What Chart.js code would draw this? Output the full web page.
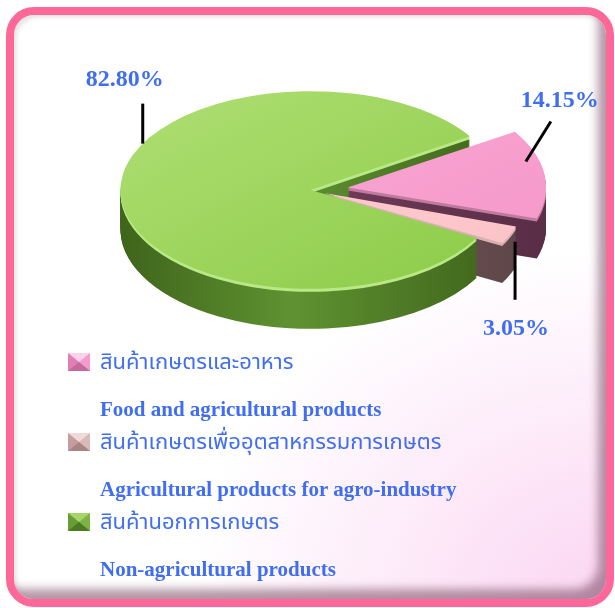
<!DOCTYPE html>
<html>
<head>
<meta charset="utf-8">
<script src="https://cdn.jsdelivr.net/npm/chart.js@4.4.1/dist/chart.umd.min.js"></script>
<style>
  body { margin: 0; width: 615px; height: 608px; overflow: hidden; position: relative; background: #fff; }
  #frame {
    position: absolute; left: 6px; top: 7px; width: 608px; height: 600px;
    box-sizing: border-box; border: 8px solid #fd6898; border-radius: 28px;
    background: radial-gradient(ellipse 70% 60% at 100% 100%, #fbd6f3 0%, #fff 100%);
    box-shadow: inset -12px -14px 10px -4px rgba(130, 80, 105, 0.6), inset 4px 4px 5px -2px rgba(0, 0, 0, 0.12);
  }
  #chart { position: absolute; left: 0; top: 0; }
  #legend { position: absolute; left: 68px; top: 345px; color: #3f6ef2; }
  .item { height: 80px; }
  .thai { display: flex; align-items: center; height: 34px; font: 22px "Noto Sans Thai", "Noto Serif Thai", "Loma", "Garuda", sans-serif; }
  .eng { margin: 18px 0 0 32px; font: bold 21px "Liberation Serif", "Times New Roman", serif; line-height: 24px; }
  .box { width: 0; height: 0; margin-right: 10px; border-style: solid; border-width: 9px 11px; }
</style>
</head>
<body>
<div id="frame"></div>
<canvas id="chart" width="615" height="608"></canvas>
<div id="legend"></div>
<script>
const categories = ["สินค้าเกษตรและอาหาร", "สินค้าเกษตรเพื่ออุตสาหกรรมการเกษตร", "สินค้านอกการเกษตร"];
const categoriesEn = ["Food and agricultural products", "Agricultural products for agro-industry", "Non-agricultural products"];
const shares = [14.15, 3.05, 82.80];
const shareLabels = ["14.15%", "3.05%", "82.80%"];

// look of the 3d pie
const topColors = [["#fbaad6", "#f597c8"], ["#fed0d3", "#fbc2c7"], ["#afdf74", "#8ccb47"]];
const sideColors = [["#6e3b58", "#5a2e47"], ["#7a5c60", "#5f4649"], ["#5f9231", "#3f641b"]];
const rimColors = ["#c07aa0", "#d9b0b4", "#b9e886"];
const bevel = [
  ["#fcd3ea", "#c46a9c", "#f49bcb", "#e07fb3"],
  ["#efd9d9", "#a98486", "#dbb8b9", "#c59d9f"],
  ["#a6d66a", "#4d7a22", "#7fb445", "#6a9c35"],
];
const squash = 0.52, depth = 40, centerY = 190;
const labelPlace = [
  { angle: -16, reach: 0.93, drop: 0, lineTo: [25, -40], text: [9, -21] },
  { angle: 19, reach: 1, drop: 14, lineTo: [0, 58], text: [1, 29] },
  { angle: -152, reach: 1, drop: 0, lineTo: [0, -40], text: [-18, -24] },
];

function shift(arc) {
  const off = (arc.options.offset || 0) / 4;
  const fix = 1 - Math.sin(Math.min(Math.PI, arc.circumference));
  const mid = (arc.startAngle + arc.endAngle) / 2;
  const t = off * (1 + fix);
  return [Math.cos(mid) * t, Math.sin(mid) * t];
}

function fillFor(ctx, arc, pair) {
  const r = arc.outerRadius;
  const g = ctx.createLinearGradient(arc.x - r, arc.y - r, arc.x + r, arc.y + r);
  g.addColorStop(0, pair[0]);
  g.addColorStop(1, pair[1]);
  return g;
}

function sideFill(ctx, arc, i, d) {
  const r = arc.outerRadius;
  const g = ctx.createLinearGradient(arc.x - r, 0, arc.x + r, 0);
  const c = d < 4 ? [rimColors[i], rimColors[i]] : sideColors[i];
  g.addColorStop(0, c[1]);
  g.addColorStop(0.45, c[0]);
  g.addColorStop(1, c[1]);
  return g;
}

const pie3d = {
  id: "pie3d",
  beforeDatasetsDraw(chart) {
    const ctx = chart.ctx;
    const arcs = chart.getDatasetMeta(0).data;
    const cy = arcs[0].y;
    ctx.save();
    ctx.translate(0, centerY);
    ctx.scale(1, squash);
    ctx.translate(0, -cy);
    for (let d = depth; d > 0; d--) {
      ctx.save();
      ctx.translate(0, d / squash);
      arcs.forEach((arc, i) => {
        const keep = arc.options.backgroundColor;
        arc.options.backgroundColor = sideFill(ctx, arc, i, d);
        arc.draw(ctx);
        arc.options.backgroundColor = keep;
      });
      ctx.restore();
    }
    arcs.forEach((arc, i) => {
      arc.options.backgroundColor = fillFor(ctx, arc, topColors[i]);
    });
  },
  afterDatasetsDraw(chart) {
    const ctx = chart.ctx;
    ctx.restore();
    const arcs = chart.getDatasetMeta(0).data;
    arcs.forEach((arc, i) => {
      const p = labelPlace[i];
      const [sx, sy] = shift(arc);
      const a = p.angle * Math.PI / 180;
      const x = arc.x + sx + Math.cos(a) * arc.outerRadius * p.reach;
      const y = centerY + (sy + Math.sin(a) * arc.outerRadius * p.reach) * squash + p.drop;
      const x2 = x + p.lineTo[0], y2 = y + p.lineTo[1];
      ctx.save();
      ctx.strokeStyle = "#000";
      ctx.lineWidth = 3;
      ctx.beginPath();
      ctx.moveTo(x, y);
      ctx.lineTo(x2, y2);
      ctx.stroke();
      ctx.fillStyle = "#3f6ef2";
      ctx.font = "bold 24px 'Liberation Serif', serif";
      ctx.textAlign = "center";
      ctx.textBaseline = "middle";
      ctx.fillText(shareLabels[i], x2 + p.text[0], y2 + p.text[1]);
      ctx.restore();
    });
  },
};

new Chart(document.getElementById("chart"), {
  type: "pie",
  data: {
    labels: categories,
    datasets: [{
      data: shares,
      backgroundColor: topColors.map(c => c[0]),
      borderWidth: 0,
      offset: [150, 60, 0],
      clip: false,
    }],
  },
  options: {
    responsive: false,
    animation: false,
    events: [],
    radius: 190,
    rotation: 57,
    layout: { padding: { left: 6, right: 0, top: 0, bottom: 0 } },
    plugins: { legend: { display: false }, tooltip: { enabled: false } },
  },
  plugins: [pie3d],
});

const legend = document.getElementById("legend");
categories.forEach((name, i) => {
  const b = bevel[i];
  const item = document.createElement("div");
  item.className = "item";
  item.innerHTML = `
    <div class="thai"><span class="box" style="border-color:${b[0]} ${b[2]} ${b[1]} ${b[3]}"></span>${name}</div>
    <div class="eng">${categoriesEn[i]}</div>`;
  legend.appendChild(item);
});
</script>
</body>
</html>
